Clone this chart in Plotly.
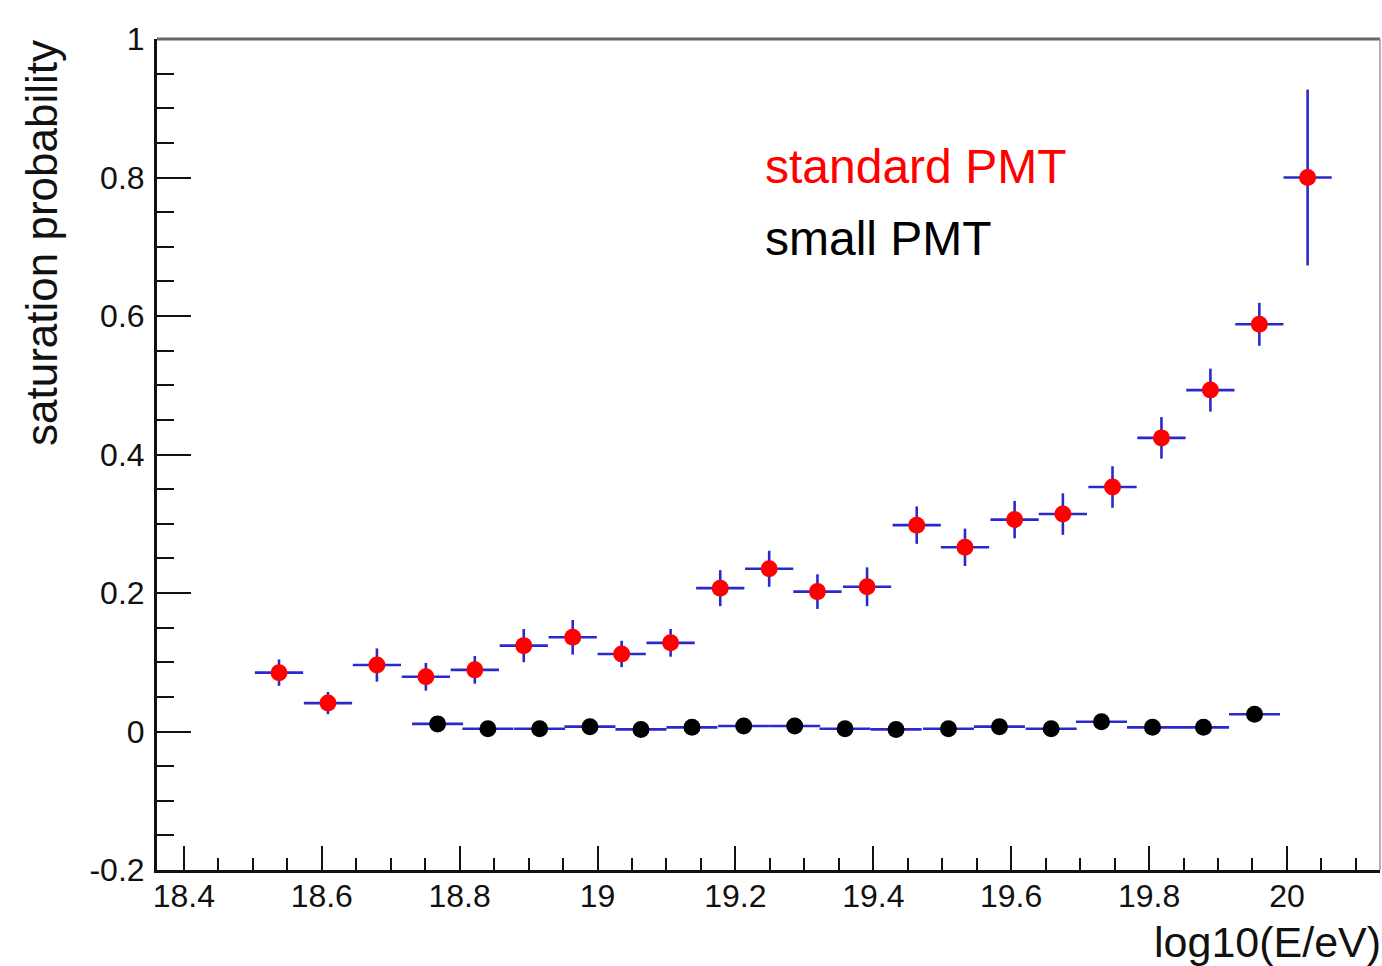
import plotly.graph_objects as go

# ---- data ----
std_x = [18.538, 18.609, 18.680, 18.751, 18.822, 18.893, 18.964, 19.035, 19.106, 19.178, 19.249,
         19.319, 19.391, 19.463, 19.533, 19.605, 19.675, 19.747, 19.818, 19.889, 19.960, 20.030]
std_y = [0.085, 0.041, 0.096, 0.079, 0.089, 0.124, 0.136, 0.112, 0.128, 0.207, 0.235,
         0.202, 0.209, 0.298, 0.266, 0.306, 0.314, 0.353, 0.424, 0.493, 0.588, 0.800]
std_yerr = [0.019, 0.016, 0.024, 0.020, 0.020, 0.024, 0.025, 0.019, 0.020, 0.026, 0.026,
            0.025, 0.028, 0.027, 0.027, 0.027, 0.030, 0.030, 0.030, 0.031, 0.031, 0.127]
std_xerr = [0.035] * len(std_x)

small_x = [18.768, 18.841, 18.916, 18.989, 19.063, 19.137, 19.212, 19.286, 19.359,
           19.433, 19.509, 19.583, 19.658, 19.731, 19.805, 19.879, 19.953]
small_y = [0.011, 0.004, 0.004, 0.007, 0.003, 0.006, 0.008, 0.008, 0.004,
           0.003, 0.004, 0.007, 0.004, 0.014, 0.006, 0.006, 0.025]
small_yerr = [0.003, 0.002, 0.002, 0.003, 0.002, 0.002, 0.003, 0.003, 0.002,
              0.002, 0.002, 0.003, 0.002, 0.004, 0.003, 0.003, 0.008]
small_xerr = [0.037] * len(small_x)

x_ticks = [18.4, 18.6, 18.8, 19.0, 19.2, 19.4, 19.6, 19.8, 20.0]
x_ticktext = ["18.4", "18.6", "18.8", "19", "19.2", "19.4", "19.6", "19.8", "20"]
y_ticks = [-0.2, 0.0, 0.2, 0.4, 0.6, 0.8, 1.0]
y_ticktext = ["-0.2", "0", "0.2", "0.4", "0.6", "0.8", "1"]

x_range = [18.361, 20.135]
y_range = [-0.2, 1.0]

# ---- figure geometry (pixels); page body margin removed via post_script ----
W, H = 1382, 966
L, T = 157, 39
RIGHT_EDGE, BOTTOM_EDGE = 1380, 870
R, B = W - RIGHT_EDGE, H - BOTTOM_EDGE
PW, PH = W - L - R, H - T - B


def px(xp):
    """reference-image x pixel -> paper coordinate"""
    return (xp - L) / PW


def py(yp):
    """reference-image y pixel -> paper coordinate"""
    return (BOTTOM_EDGE - yp) / PH


FONT = "Liberation Sans, Arial, Helvetica, sans-serif"
BLUE = "#2a2acc"
INK = "#111111"

fig = go.Figure()
fig.add_trace(go.Scatter(
    x=std_x, y=std_y, mode="markers", name="standard PMT",
    marker=dict(color="#ff0000", size=17, line=dict(width=0)),
    error_y=dict(type="data", array=std_yerr, color=BLUE, thickness=2.6, width=0),
    error_x=dict(type="data", array=std_xerr, color=BLUE, thickness=2.6, width=0),
))
fig.add_trace(go.Scatter(
    x=small_x, y=small_y, mode="markers", name="small PMT",
    marker=dict(color="#000000", size=17, line=dict(width=0)),
    error_y=dict(type="data", array=small_yerr, color=BLUE, thickness=2.6, width=0),
    error_x=dict(type="data", array=small_xerr, color=BLUE, thickness=2.6, width=0),
))

fig.update_layout(
    width=W, height=H,
    margin=dict(l=L, r=R, t=T, b=B, pad=0),
    paper_bgcolor="white", plot_bgcolor="white",
    showlegend=False,
    font=dict(family=FONT, color=INK),
    xaxis=dict(
        range=x_range, tickmode="array", tickvals=x_ticks, ticktext=x_ticktext,
        ticks="inside", ticklen=24, tickwidth=2, tickcolor=INK,
        tickfont=dict(size=32, family=FONT, color=INK),
        ticklabelstandoff=-4,
        minor=dict(dtick=0.05, tick0=18.4, ticks="inside", ticklen=12, tickwidth=2, tickcolor=INK),
        showline=True, linecolor=INK, linewidth=3,
        showgrid=False, zeroline=False,
    ),
    yaxis=dict(
        range=y_range, tickmode="array", tickvals=y_ticks, ticktext=y_ticktext,
        ticks="inside", ticklen=34, tickwidth=2, tickcolor=INK,
        tickfont=dict(size=32, family=FONT, color=INK),
        ticklabelstandoff=3,
        minor=dict(dtick=0.05, tick0=0, ticks="inside", ticklen=17, tickwidth=2, tickcolor=INK),
        showline=True, linecolor=INK, linewidth=3,
        showgrid=False, zeroline=False,
    ),
    shapes=[
        dict(type="line", xref="paper", yref="paper", x0=0, x1=1, y0=1, y1=1,
             line=dict(color="#666666", width=3)),
        dict(type="line", xref="paper", yref="paper", x0=1, x1=1, y0=0, y1=1,
             line=dict(color="#999999", width=1.5)),
    ],
    annotations=[
        dict(text="standard PMT", xref="paper", yref="paper", x=px(763), y=py(166),
             xanchor="left", yanchor="middle", showarrow=False,
             font=dict(size=48, color="#ff0000", family=FONT)),
        dict(text="small PMT", xref="paper", yref="paper", x=px(763), y=py(238),
             xanchor="left", yanchor="middle", showarrow=False,
             font=dict(size=48, color="#000000", family=FONT)),
        dict(text="log10(E/eV)", xref="paper", yref="paper", x=px(1383), y=py(942),
             xanchor="right", yanchor="middle", showarrow=False,
             font=dict(size=43, color=INK, family=FONT)),
        dict(text="saturation probability", xref="paper", yref="paper", x=px(42), y=py(38),
             xanchor="center", yanchor="top", textangle=-90, showarrow=False,
             font=dict(size=44, color=INK, family=FONT)),
    ],
)

fig.write_html(
    "out.html",
    config={"displayModeBar": False, "staticPlot": True},
    post_script="document.body.style.margin='0';document.body.style.overflow='hidden';",
)
